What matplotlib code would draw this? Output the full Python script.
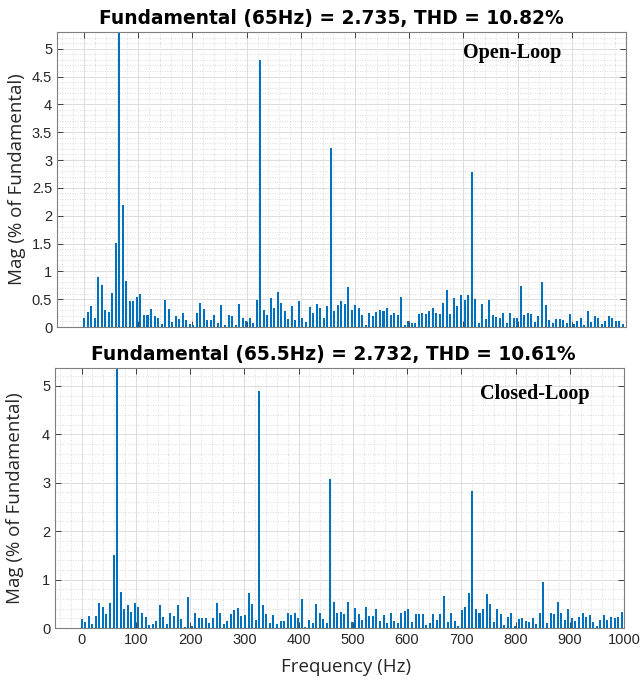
import numpy as np
import matplotlib
matplotlib.use("Agg")
import matplotlib.pyplot as plt
from matplotlib.ticker import MultipleLocator

# ---------------- data ----------------
bin_hz_open = 6.5      # FFT bin spacing, open loop (65 Hz / 10)
bin_hz_closed = 6.55   # FFT bin spacing, closed loop (65.5 Hz / 10)

mag_open = [
    0.17, 0.27, 0.38, 0.16, 0.89, 0.75, 0.30, 0.27, 0.61, 1.51,
    100.0, 2.20, 0.83, 0.47, 0.47, 0.54, 0.59, 0.22, 0.22, 0.32,
    0.19, 0.16, 0.05, 0.49, 0.32, 0.09, 0.19, 0.14, 0.25, 0.13,
    0.05, 0.03, 0.25, 0.43, 0.33, 0.12, 0.12, 0.22, 0.08, 0.40,
    0.04, 0.21, 0.19, 0.04, 0.42, 0.16, 0.11, 0.17, 0.08, 0.49,
    4.80, 0.30, 0.22, 0.52, 0.34, 0.63, 0.43, 0.28, 0.14, 0.38,
    0.13, 0.47, 0.16, 0.09, 0.36, 0.26, 0.42, 0.34, 0.17, 0.38,
    3.22, 0.29, 0.39, 0.47, 0.42, 0.72, 0.31, 0.40, 0.34, 0.22,
    0.04, 0.25, 0.20, 0.27, 0.31, 0.28, 0.35, 0.22, 0.25, 0.22,
    0.54, 0.04, 0.10, 0.08, 0.08, 0.23, 0.26, 0.23, 0.28, 0.35,
    0.25, 0.23, 0.43, 0.67, 0.23, 0.52, 0.38, 0.58, 0.49, 0.57,
    2.79, 0.51, 0.07, 0.42, 0.14, 0.49, 0.22, 0.18, 0.17, 0.25,
    0.07, 0.25, 0.16, 0.16, 0.73, 0.21, 0.25, 0.23, 0.09, 0.19,
    0.81, 0.40, 0.13, 0.07, 0.14, 0.14, 0.12, 0.07, 0.23, 0.05,
    0.11, 0.16, 0.04, 0.29, 0.09, 0.19, 0.16, 0.05, 0.10, 0.19,
    0.16, 0.11, 0.10, 0.05,
]

mag_closed = [
    0.19, 0.13, 0.24, 0.09, 0.25, 0.52, 0.43, 0.28, 0.52, 1.50,
    100.0, 0.75, 0.39, 0.48, 0.33, 0.52, 0.43, 0.30, 0.23, 0.06,
    0.08, 0.14, 0.48, 0.23, 0.08, 0.30, 0.24, 0.47, 0.18, 0.03,
    0.64, 0.05, 0.32, 0.21, 0.21, 0.21, 0.11, 0.21, 0.52, 0.31,
    0.08, 0.14, 0.28, 0.37, 0.42, 0.24, 0.26, 0.73, 0.50, 0.17,
    4.89, 0.48, 0.29, 0.10, 0.27, 0.09, 0.14, 0.14, 0.30, 0.26,
    0.30, 0.21, 0.60, 0.03, 0.17, 0.11, 0.50, 0.32, 0.19, 0.11,
    3.07, 0.53, 0.31, 0.34, 0.28, 0.54, 0.12, 0.42, 0.29, 0.17,
    0.43, 0.24, 0.24, 0.39, 0.15, 0.26, 0.11, 0.31, 0.15, 0.10,
    0.31, 0.36, 0.39, 0.12, 0.28, 0.28, 0.29, 0.06, 0.10, 0.28,
    0.17, 0.28, 0.67, 0.13, 0.31, 0.14, 0.04, 0.38, 0.43, 0.73,
    2.83, 0.39, 0.30, 0.40, 0.71, 0.49, 0.12, 0.39, 0.28, 0.06,
    0.22, 0.30, 0.05, 0.19, 0.21, 0.14, 0.12, 0.21, 0.09, 0.32,
    0.96, 0.10, 0.32, 0.28, 0.54, 0.30, 0.17, 0.39, 0.20, 0.14,
    0.23, 0.30, 0.22, 0.26, 0.13, 0.04, 0.16, 0.26, 0.16, 0.23,
    0.20, 0.23, 0.34,
]

title_open = "Fundamental (65Hz) = 2.735, THD = 10.82%"
title_closed = "Fundamental (65.5Hz) = 2.732, THD = 10.61%"
label_open = "Open-Loop"
label_closed = "Closed-Loop"
xlabel = "Frequency (Hz)"
ylabel = "Mag (% of Fundamental)"
xticks = [0, 100, 200, 300, 400, 500, 600, 700, 800, 900, 1000]
yticks_open = [0, 0.5, 1, 1.5, 2, 2.5, 3, 3.5, 4, 4.5, 5]
yticklabels_open = ["0", "0.5", "1", "1.5", "2", "2.5", "3", "3.5", "4", "4.5", "5"]
yticks_closed = [0, 1, 2, 3, 4, 5]
yticklabels_closed = ["0", "1", "2", "3", "4", "5"]

# ---------------- style ----------------
BAR = "#0072BD"
TXT = "#262626"
TICKFONT = "Liberation Sans"
LABFONT = "Open Sans"

fig = plt.figure(figsize=(6.42, 6.84), dpi=100)
ax1 = fig.add_axes([57 / 642, 1 - 327 / 684, 569 / 642, 295 / 684])
ax2 = fig.add_axes([55 / 642, 1 - 628 / 684, 569 / 642, 260 / 684])


def style(ax, ylim, yt, ytl, yminor, xlim, show_xlabels):
    ax.set_xticks(xticks)
    ax.set_xticklabels([str(t) for t in xticks])
    ax.set_yticks(yt)
    ax.set_yticklabels(ytl)
    ax.set_xlim(*xlim)
    ax.set_ylim(*ylim)
    ax.xaxis.set_minor_locator(MultipleLocator(20))
    ax.yaxis.set_minor_locator(MultipleLocator(yminor))
    ax.grid(True, which="major", color="#dcdcdc", linewidth=0.7, linestyle="-")
    ax.grid(True, which="minor", color="#d0d0d0", linewidth=0.6, linestyle=(0, (1, 2)))
    ax.set_axisbelow(True)
    ax.tick_params(which="both", direction="in", top=True, right=True,
                   colors="#404040", labelcolor=TXT, labelsize=10.5)
    ax.tick_params(which="major", length=4, width=0.7)
    ax.tick_params(which="minor", length=0)
    for s in ax.spines.values():
        s.set_color("#7f7f7f")
        s.set_linewidth(0.8)
    for lab in ax.get_xticklabels() + ax.get_yticklabels():
        lab.set_fontfamily(TICKFONT)
    if not show_xlabels:
        ax.tick_params(labelbottom=False)


freq_open = np.arange(len(mag_open)) * bin_hz_open
freq_closed = np.arange(len(mag_closed)) * bin_hz_closed

ax1.bar(freq_open, mag_open, width=3.7, color=BAR, linewidth=0, zorder=2)
ax2.bar(freq_closed, mag_closed, width=3.7, color=BAR, linewidth=0, zorder=2)

style(ax1, (0, 5.3), yticks_open, yticklabels_open, 0.1, (-50, 1000), False)
style(ax2, (0, 5.37), yticks_closed, yticklabels_closed, 0.2, (-49, 1000), True)

t1 = ax1.set_title(title_open, fontsize=13.4, fontweight="bold", color="black", pad=6,
                   family="DejaVu Sans")
t1.set_x(0.483)
t2 = ax2.set_title(title_closed, fontsize=13.4, fontweight="bold", color="black", pad=6,
                   family="DejaVu Sans")
t2.set_x(0.489)

ax1.text(0.80, 0.929, label_open, transform=ax1.transAxes, ha="center", va="center",
         fontsize=14.5, fontweight="bold", family="Liberation Serif", color="black")
ax2.text(0.844, 0.90, label_closed, transform=ax2.transAxes, ha="center", va="center",
         fontsize=14.5, fontweight="bold", family="Liberation Serif", color="black")

for ax in (ax1, ax2):
    ax.set_ylabel(ylabel, fontsize=13.5, family=LABFONT, color=TXT)
    ax.yaxis.set_label_coords(-0.055, 0.5)
ax2.set_xlabel(xlabel, fontsize=13.5, family=LABFONT, color=TXT)
ax2.xaxis.set_label_coords(0.511, -0.115)

fig.savefig("out.png", dpi=100)
